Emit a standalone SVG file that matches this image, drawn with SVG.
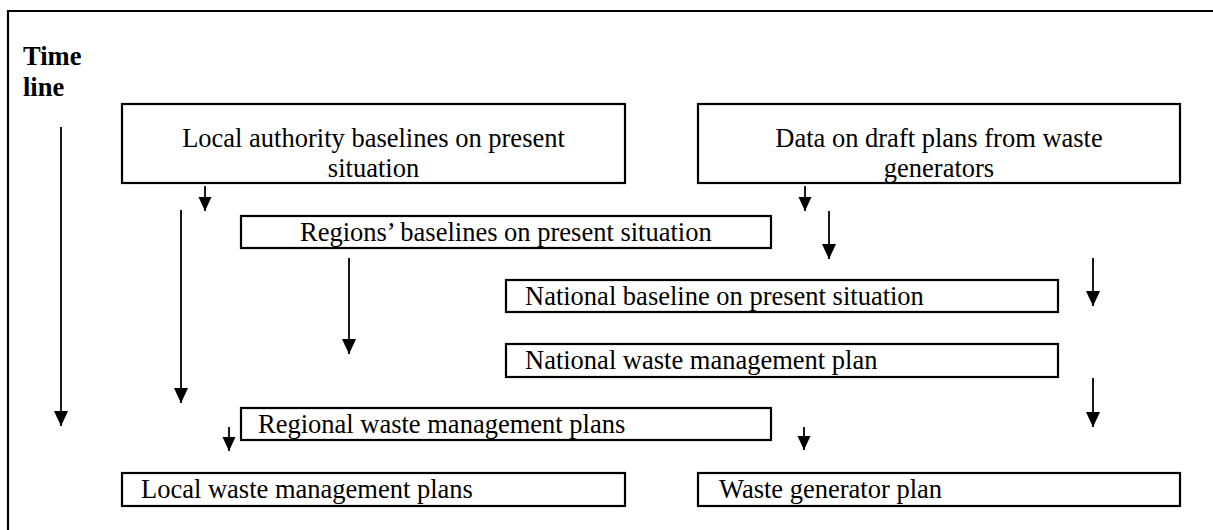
<svg xmlns="http://www.w3.org/2000/svg" width="1213" height="530" viewBox="0 0 1213 530">
<style>
.box{fill:#fff;stroke:#000;stroke-width:2.2}
.t{font-family:"Liberation Serif","Times New Roman",serif;font-size:26.5px;fill:#000}
.c{text-anchor:middle}
.b{font-weight:bold}
.arr{stroke:#000;stroke-width:1.8;fill:none;marker-end:url(#ah)}
.arrs{stroke:#000;stroke-width:1.8;fill:none;marker-end:url(#ahs)}
</style>
<defs>
<marker id="ah" markerUnits="userSpaceOnUse" markerWidth="15" markerHeight="16" refX="16" refY="7.5" orient="auto" viewBox="0 0 16 15">
<path d="M0,0 L16,7.5 L0,15 z" fill="#000"/>
</marker>
<marker id="ahs" markerUnits="userSpaceOnUse" markerWidth="14" markerHeight="14" refX="14" refY="6.5" orient="auto" viewBox="0 0 14 13">
<path d="M0,0 L14,6.5 L0,13 z" fill="#000"/>
</marker>
</defs>
<rect width="1213" height="530" fill="#fff"/>
<g id="frame"><path d="M8,530 L8,11 L1213,11" fill="none" stroke="#000" stroke-width="2.2"/></g>
<g id="timeline-label">
<text class="t b" x="23" y="65">Time</text>
<text class="t b" x="23" y="96">line</text>
</g>
<g id="n1"><rect class="box" x="122" y="104" width="503" height="79"/>
<text class="t c" x="373.5" y="147">Local authority baselines on present</text>
<text class="t c" x="373.5" y="177">situation</text></g>
<g id="n2"><rect class="box" x="698" y="104" width="482" height="79"/>
<text class="t c" x="939" y="147">Data on draft plans from waste</text>
<text class="t c" x="939" y="177">generators</text></g>
<g id="n3"><rect class="box" x="241" y="216" width="530" height="32"/>
<text class="t" x="300" y="241">Regions’ baselines on present situation</text></g>
<g id="n4"><rect class="box" x="506" y="280" width="552" height="32"/>
<text class="t" x="525" y="305">National baseline on present situation</text></g>
<g id="n5"><rect class="box" x="506" y="344" width="552" height="33"/>
<text class="t" x="525" y="369">National waste management plan</text></g>
<g id="n6"><rect class="box" x="241" y="408" width="530" height="32"/>
<text class="t" x="258" y="433">Regional waste management plans</text></g>
<g id="n7"><rect class="box" x="122" y="473" width="503" height="33"/>
<text class="t" x="141" y="498">Local waste management plans</text></g>
<g id="n8"><rect class="box" x="698" y="473" width="482" height="33"/>
<text class="t" x="719" y="498">Waste generator plan</text></g>
<g id="connectors">
<path class="arr" d="M61,127 L61,426"/>
<path class="arrs" d="M205,186 L205,211"/>
<path class="arrs" d="M805,186 L805,211"/>
<path class="arr" d="M181,210 L181,403"/>
<path class="arr" d="M349,258 L349,354"/>
<path class="arr" d="M829,211 L829,259"/>
<path class="arr" d="M1093,258 L1093,306"/>
<path class="arr" d="M1093,378 L1093,427"/>
<path class="arrs" d="M229,427 L229,451"/>
<path class="arrs" d="M804,427 L804,450"/>
</g>
</svg>
